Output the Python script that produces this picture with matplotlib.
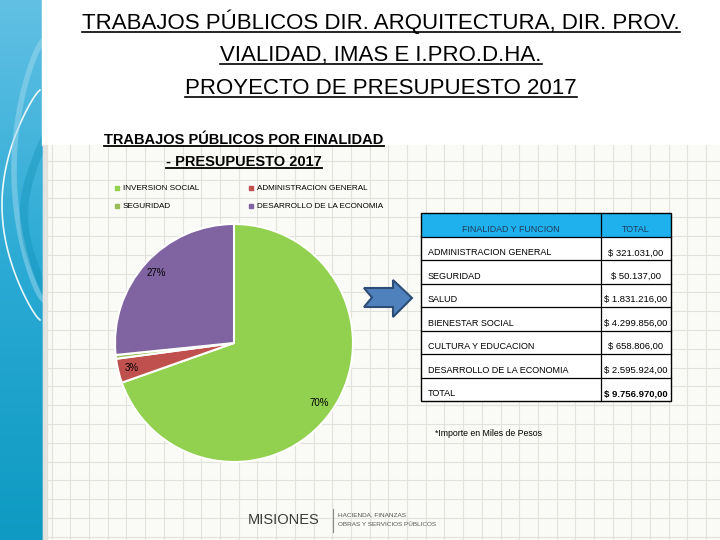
import numpy as np
import matplotlib
matplotlib.use("Agg")
import matplotlib.pyplot as plt
from matplotlib.patches import Rectangle, Polygon

# Datos del grafico de torta (miles de pesos)
categorias = ["INVERSION SOCIAL", "ADMINISTRACION GENERAL", "SEGURIDAD", "DESARROLLO DE LA ECONOMIA"]
montos = [6789878, 321031, 50137, 2595924]
colores = ["#92D050", "#C0504D", "#9BBB59", "#8064A2"]

# Datos de la tabla
funciones = ["ADMINISTRACION GENERAL", "SEGURIDAD", "SALUD", "BIENESTAR SOCIAL",
             "CULTURA Y EDUCACION", "DESARROLLO DE LA ECONOMIA", "TOTAL"]
totales = ["$ 321.031,00", "$ 50.137,00", "$ 1.831.216,00", "$ 4.299.856,00",
           "$ 658.806,00", "$ 2.595.924,00", "$ 9.756.970,00"]

titulo = ["TRABAJOS PÚBLICOS DIR. ARQUITECTURA, DIR. PROV.",
          "VIALIDAD, IMAS E I.PRO.D.HA.",
          "PROYECTO DE PRESUPUESTO 2017"]
titulo_grafico = ["TRABAJOS PÚBLICOS POR FINALIDAD", "- PRESUPUESTO 2017"]

plt.rcParams['font.family'] = ['Liberation Sans', 'DejaVu Sans']

fig = plt.figure(figsize=(7.2, 5.4), dpi=100)
bg = fig.add_axes([0, 0, 1, 1])
bg.set_xlim(0, 720)
bg.set_ylim(540, 0)
bg.axis('off')

# franja azul izquierda
grad = np.linspace(0, 1, 256).reshape(-1, 1)
cmap = matplotlib.colors.LinearSegmentedColormap.from_list("azul", ["#62C0E4", "#2AAAD4", "#0E9AC2"])
bg.imshow(grad, extent=(0, 44, 540, 0), cmap=cmap, aspect='auto', zorder=0)
t = np.linspace(0, 1, 100)
bg.plot(40 - 38 * np.sin(np.pi * t) ** 0.8, 90 + 230 * t, color="white", lw=1.2, alpha=0.9, zorder=1)
bg.plot(44 - 30 * np.sin(np.pi * t) ** 0.7, 40 + 260 * t, color="#9ED8EE", lw=4, alpha=0.5, zorder=1)
bg.plot(44 - 20 * np.sin(np.pi * t), 140 + 150 * t, color="#0B8DB5", lw=6, alpha=0.35, zorder=1)

# zona superior blanca y zona cuadriculada
bg.add_patch(Rectangle((42, 0), 678, 145, color="white", zorder=2))
bg.add_patch(Rectangle((43, 145), 677, 395, color="#FAFAF6", zorder=2))
bg.add_patch(Rectangle((43, 145), 4, 395, color="#D8D8D4", zorder=2, alpha=0.6))
for x in np.arange(14.3, 720, 18.7):
    if x > 47:
        bg.plot([x, x], [145, 540], color="#E2E2DC", lw=0.8, zorder=3)
for y in np.arange(10.4, 540, 18.8):
    if y > 145:
        bg.plot([47, 720], [y, y], color="#E2E2DC", lw=0.8, zorder=3)

def subrayar(txt, offset, lw):
    fig.canvas.draw()
    bb = txt.get_window_extent(fig.canvas.get_renderer())
    inv = bg.transData.inverted()
    (x0, y0), (x1, _) = inv.transform([(bb.x0, bb.y0), (bb.x1, bb.y0)])
    bg.plot([x0, x1], [y0 - offset, y0 - offset], color="black", lw=lw, zorder=6)

# titulo principal
for i, linea in enumerate(titulo):
    tx = bg.text(381, 22 + 33 * i, linea, ha='center', va='center', fontsize=16, zorder=6)
    subrayar(tx, 2, 1.2)

# titulo del grafico
for i, linea in enumerate(titulo_grafico):
    tx = bg.text(244, 140 + 22 * i, linea, ha='center', va='center', fontsize=10.5,
                 fontweight='bold', zorder=6)
    subrayar(tx, 1.5, 1.3)

# leyenda
for k in range(len(categorias)):
    fila, col = k // 2, k % 2
    lx = 117 + 134 * col
    ly = 188 + 18 * fila
    bg.add_patch(Rectangle((lx - 2, ly - 2), 4, 4, color=colores[k], zorder=6))
    bg.text(lx + 6, ly, categorias[k], ha='left', va='center', fontsize=5.9, zorder=6)

# torta
cx, cy, r = 234, 343, 119
pie_ax = fig.add_axes([(cx - r) / 720, (540 - cy - r) / 540, 2 * r / 720, 2 * r / 540])
wedges, _, autotexts = pie_ax.pie(
    montos, colors=colores, startangle=90, counterclock=False,
    autopct=lambda p: f"{p:.0f}%" if p >= 1 else "", pctdistance=0.88,
    wedgeprops=dict(edgecolor="white", linewidth=1.5), textprops=dict(fontsize=7, color="black"))
pie_ax.set_xlim(-1, 1)
pie_ax.set_ylim(-1, 1)
pie_ax.set_zorder(5)

# flecha
flecha = [(364, 288), (393, 288), (393, 280), (412, 298), (393, 317), (393, 307), (364, 307), (372, 297.5)]
bg.add_patch(Polygon(flecha, closed=True, facecolor="#4F81BD", edgecolor="#2C4D75", lw=1.5, zorder=6))

# tabla
xl, xm, xr = 421, 601, 671
filas = np.linspace(237, 401, len(funciones) + 1)
bg.add_patch(Rectangle((xl, 213), xr - xl, 24, facecolor="#1FB1EE", edgecolor="none", zorder=6))
bg.add_patch(Rectangle((xl, 237), xr - xl, filas[-1] - 237, facecolor="white", edgecolor="none", zorder=6))
bg.add_patch(Rectangle((xl, 213), xr - xl, filas[-1] - 213, facecolor="none", edgecolor="black", lw=1, zorder=7))
bg.plot([xm, xm], [213, filas[-1]], color="black", lw=0.9, zorder=7)
for y in filas[:-1]:
    bg.plot([xl, xr], [y, y], color="black", lw=0.9, zorder=7)
bg.text((xl + xm) / 2, 230, "FINALIDAD Y FUNCION", ha='center', va='center', fontsize=6.4, color="#1F3A5A", zorder=8)
bg.text((xm + xr) / 2, 230, "TOTAL", ha='center', va='center', fontsize=6.4, color="#1F3A5A", zorder=8)
for i, (f, v) in enumerate(zip(funciones, totales)):
    yb = filas[i + 1] - 7.5
    peso = 'bold' if f == "TOTAL" else 'normal'
    bg.text(428, yb, f, ha='left', va='center', fontsize=6.5, zorder=8)
    bg.text((xm + xr) / 2, yb, v, ha='center', va='center', fontsize=6.8, fontweight=peso, zorder=8)

bg.text(435, 433, "*Importe en Miles de Pesos", ha='left', va='center', fontsize=6.3, zorder=8)

# logo
bg.text(248, 520, "MISIONES", ha='left', va='center', fontsize=10.5, color="#3C3C3C", zorder=8)
bg.plot([333, 333], [509, 532], color="#888888", lw=0.8, zorder=8)
bg.text(338, 515, "HACIENDA, FINANZAS", ha='left', va='center', fontsize=4.6, color="#555555", zorder=8)
bg.text(338, 524, "OBRAS Y SERVICIOS PÚBLICOS", ha='left', va='center', fontsize=4.6, color="#555555", zorder=8)

fig.savefig("out.png", dpi=100)
